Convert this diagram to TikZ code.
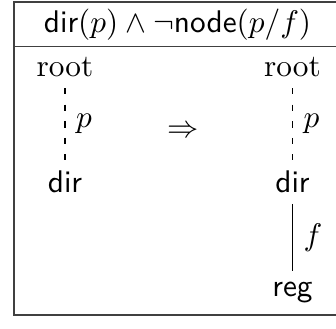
\documentclass[tikz,border=0pt]{standalone}
\usepackage{amsmath}

\begin{document}
\begin{tikzpicture}[x=0.3195pt,y=0.3195pt,
    word/.style={anchor=base},
    framebox/.style={draw=black!75},
    solidlink/.style={thin},
    dashlink/.style={thin,dash pattern=on 2pt off 3.3pt}]
    \useasboundingbox (0,0) rectangle (336,329);
    % frame and header
    \draw[framebox] (341,14) -- (14,14) -- (14,327) -- (341,327);
    \draw[framebox] (14,282.3) -- (341,282.3);
    \node[word] (head) at (177.5,296) {$\textsf{dir}(p)\wedge\neg\textsf{node}(p/f)$};

    % before
    \node[word] (lroot) at (65,252.3) {root};
    \node[word] (ldir) at (65,136.6) {\textsf{dir}};
    \draw[dashlink] (lroot) -- node[right] (lp) {$p$} (ldir);

    \node (arrow) at (183,197.3) {$\Rightarrow$};

    % after
    \node[word] (rroot) at (292.5,252.3) {root};
    \node[word] (rdir) at (292.5,136.6) {\textsf{dir}};
    \node[word] (rreg) at (292.5,32.3) {\textsf{reg}};
    \draw[dashlink] (rroot) -- node[right] (rp) {$p$} (rdir);
    \draw[solidlink] (rdir) -- node[right] (rf) {$f$} (rreg);
\end{tikzpicture}
\end{document}
